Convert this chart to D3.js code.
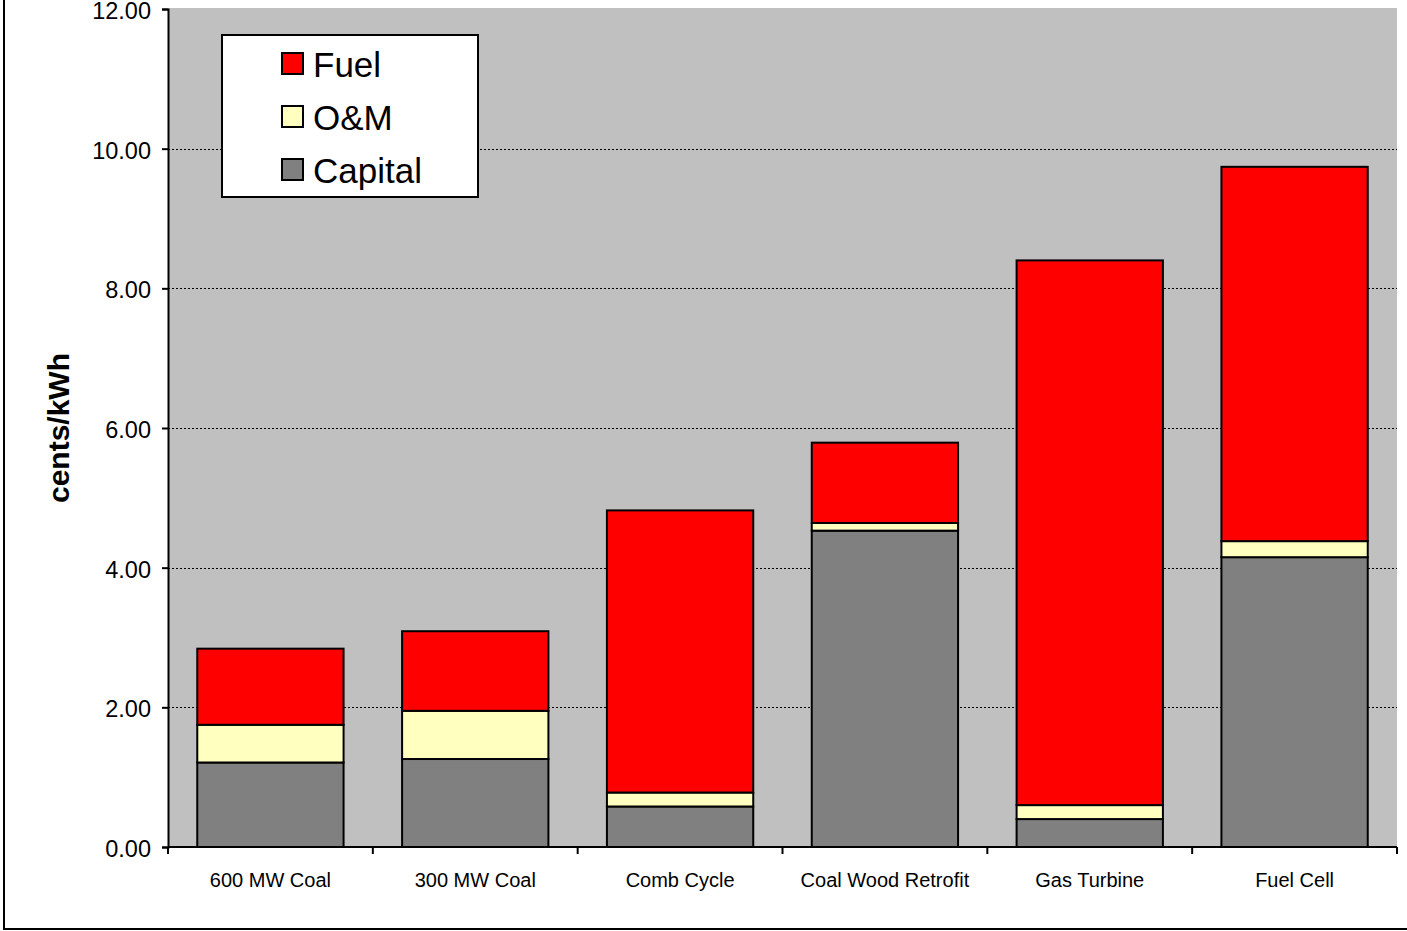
<!DOCTYPE html>
<html>
<head>
<meta charset="utf-8">
<script src="https://cdn.jsdelivr.net/npm/d3@7"></script>
<style>
  html, body { margin: 0; padding: 0; background: #fff; }
  svg { display: block; font-family: Arial, "Liberation Sans", sans-serif; }
</style>
</head>
<body>
<svg id="chart" width="1407" height="931"></svg>
<script>
// Levelized generation cost by technology (cents/kWh)
const categories = ["600 MW Coal", "300 MW Coal", "Comb Cycle", "Coal Wood Retrofit", "Gas Turbine", "Fuel Cell"];
const capital = [1.21, 1.26, 0.58, 4.53, 0.40, 4.15];
const om      = [0.54, 0.69, 0.20, 0.11, 0.20, 0.23];
const fuel    = [1.09, 1.14, 4.04, 1.15, 7.80, 5.36];
const seriesNames = ["Capital", "O&M", "Fuel"];
const seriesColors = ["#808080", "#FFFFC0", "#FF0000"];
const yTicks = [0, 2, 4, 6, 8, 10, 12];
const legendOrder = ["Fuel", "O&M", "Capital"];

const rows = categories.map((c, i) => ({ category: c, "Capital": capital[i], "O&M": om[i], "Fuel": fuel[i] }));

const svg = d3.select("#chart");
const plot = { left: 168, right: 1397, top: 9, bottom: 847 };

const x = d3.scaleBand()
  .domain(categories)
  .range([plot.left, plot.right])
  .paddingInner(0.2857)
  .paddingOuter(0.14285);

const y = d3.scaleLinear().domain([0, 12]).range([plot.bottom, plot.top]);
const color = d3.scaleOrdinal().domain(seriesNames).range(seriesColors);

// outer chart frame
svg.append("rect")
  .attr("x", 4).attr("y", -20)
  .attr("width", 1500).attr("height", 949)
  .attr("fill", "#fff").attr("stroke", "#000").attr("stroke-width", 2);

// plot area background
svg.append("rect")
  .attr("x", plot.left).attr("y", plot.top - 1)
  .attr("width", plot.right - plot.left).attr("height", plot.bottom - plot.top + 1)
  .attr("fill", "#C0C0C0");

// dotted gridlines
svg.append("g")
  .selectAll("line")
  .data(yTicks.filter(d => d > 0 && d < 12))
  .join("line")
  .attr("x1", plot.left).attr("x2", plot.right)
  .attr("y1", d => Math.round(y(d)) + 0.5).attr("y2", d => Math.round(y(d)) + 0.5)
  .attr("stroke", "#000").attr("stroke-width", 1)
  .attr("stroke-dasharray", "2,2");

// stacked bars
const stacked = d3.stack().keys(seriesNames)(rows);
svg.append("g")
  .selectAll("g")
  .data(stacked)
  .join("g")
  .attr("fill", d => color(d.key))
  .selectAll("rect")
  .data(d => d)
  .join("rect")
  .attr("x", d => x(d.data.category))
  .attr("width", x.bandwidth())
  .attr("y", d => y(d[1]))
  .attr("height", d => y(d[0]) - y(d[1]))
  .attr("stroke", "#000")
  .attr("stroke-width", 2);

// y axis
const yAxis = svg.append("g")
  .attr("transform", `translate(${plot.left},0)`)
  .call(d3.axisLeft(y).tickValues(yTicks).tickFormat(d3.format(".2f")).tickSize(6).tickPadding(11));
yAxis.select(".domain").attr("stroke", "#000").attr("stroke-width", 2);
yAxis.selectAll(".tick line").attr("stroke", "#000").attr("stroke-width", 2);
yAxis.selectAll(".tick text")
  .attr("dy", "0.4em")
  .attr("font-size", 23.5).attr("fill", "#000")
  .attr("font-family", "Arial, 'Liberation Sans', sans-serif");

// x axis: baseline, boundary ticks, category labels
const xAxis = svg.append("g")
  .attr("transform", `translate(0,${plot.bottom})`)
  .call(d3.axisBottom(x).tickSize(0).tickPadding(0));
xAxis.select(".domain").attr("stroke", "#000").attr("stroke-width", 2)
  .attr("d", `M${plot.left},0H${plot.right}`);
xAxis.selectAll(".tick text")
  .attr("y", 40).attr("dy", null)
  .attr("font-size", 20).attr("fill", "#000")
  .attr("font-family", "Arial, 'Liberation Sans', sans-serif");
const boundaries = categories.map(c => x(c) - x.step() * x.paddingInner() / 2)
  .map((v, i) => i === 0 ? plot.left : v)
  .concat([plot.right]);
xAxis.append("g")
  .selectAll("line")
  .data(boundaries)
  .join("line")
  .attr("x1", d => d).attr("x2", d => d)
  .attr("y1", 0).attr("y2", 7)
  .attr("stroke", "#000").attr("stroke-width", 2);

// y axis title
svg.append("text")
  .attr("transform", `translate(69,428) rotate(-90)`)
  .attr("text-anchor", "middle")
  .attr("font-size", 30)
  .attr("font-weight", "bold")
  .attr("fill", "#000")
  .text("cents/kWh");

// legend
const legend = svg.append("g");
legend.append("rect")
  .attr("x", 222).attr("y", 35)
  .attr("width", 256).attr("height", 162)
  .attr("fill", "#fff").attr("stroke", "#000").attr("stroke-width", 2);
const items = legend.selectAll("g.item")
  .data(legendOrder)
  .join("g")
  .attr("class", "item")
  .attr("transform", (d, i) => `translate(0,${i * 53})`);
items.append("rect")
  .attr("x", 282).attr("y", 53)
  .attr("width", 21).attr("height", 21)
  .attr("fill", d => color(d)).attr("stroke", "#000").attr("stroke-width", 2);
items.append("text")
  .attr("x", 313).attr("y", 77)
  .attr("font-size", 35).attr("fill", "#000")
  .text(d => d);
</script>
</body>
</html>
